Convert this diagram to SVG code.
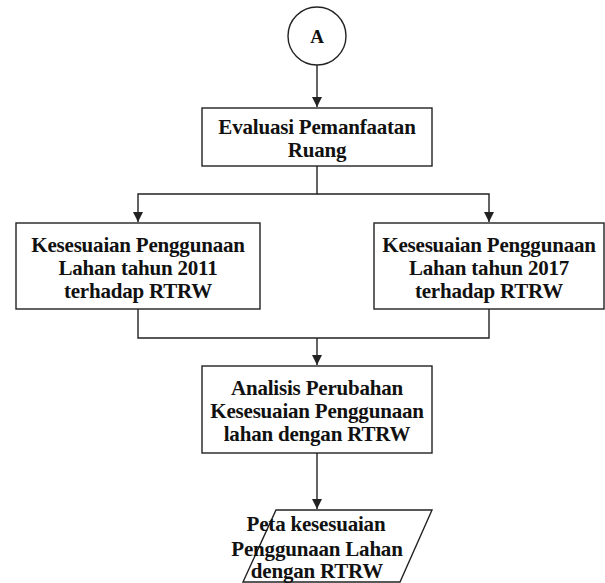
<svg xmlns="http://www.w3.org/2000/svg" width="605" height="583" viewBox="0 0 605 583">
<style>
.s{fill:#fff;stroke:#222;stroke-width:1.4}
.c{fill:none;stroke:#222;stroke-width:1.4}
text{font-family:"Liberation Serif","Times New Roman",serif;font-weight:bold;font-size:21px;letter-spacing:-0.2px;fill:#111;text-anchor:middle}
</style>
<defs>
<marker id="ah" markerWidth="12" markerHeight="12" refX="10" refY="5" orient="auto" markerUnits="userSpaceOnUse">
<path d="M0,0 L10,5 L0,10 z" fill="#222"/>
</marker>
</defs>
<rect width="605" height="583" fill="#fff"/>
<g id="connectors">
<path class="c" d="M317,65 V107" marker-end="url(#ah)"/>
<path class="c" d="M317,166 V194 H138 V222" marker-end="url(#ah)"/>
<path class="c" d="M317,194 H489 V222" marker-end="url(#ah)"/>
<path class="c" d="M138,309 V338 H489 V309"/>
<path class="c" d="M317,338 V365" marker-end="url(#ah)"/>
<path class="c" d="M317,453 V509" marker-end="url(#ah)"/>
</g>
<g id="nodeA">
<circle class="s" cx="317" cy="36" r="29"/>
<text x="317" y="43" style="font-size:19px">A</text>
</g>
<g id="evaluasi">
<rect class="s" x="202" y="108" width="230" height="58"/>
<text x="317" y="134">Evaluasi Pemanfaatan</text>
<text x="317" y="157">Ruang</text>
</g>
<g id="kesesuaian2011">
<rect class="s" x="16" y="223" width="244" height="86"/>
<text x="138" y="252">Kesesuaian Penggunaan</text>
<text x="138" y="275">Lahan tahun 2011</text>
<text x="138" y="298">terhadap RTRW</text>
</g>
<g id="kesesuaian2017">
<rect class="s" x="374" y="223" width="230" height="86"/>
<text x="489" y="252">Kesesuaian Penggunaan</text>
<text x="489" y="275">Lahan tahun 2017</text>
<text x="489" y="298">terhadap RTRW</text>
</g>
<g id="analisis">
<rect class="s" x="202" y="366" width="230" height="87"/>
<text x="317" y="395">Analisis Perubahan</text>
<text x="317" y="418">Kesesuaian Penggunaan</text>
<text x="317" y="441">lahan dengan RTRW</text>
</g>
<g id="peta">
<polygon class="s" points="276,510 432,510 400,582 243,582"/>
<text x="316" y="531">Peta kesesuaian</text>
<text x="317" y="556">Penggunaan Lahan</text>
<text x="317" y="578">dengan RTRW</text>
</g>
</svg>
